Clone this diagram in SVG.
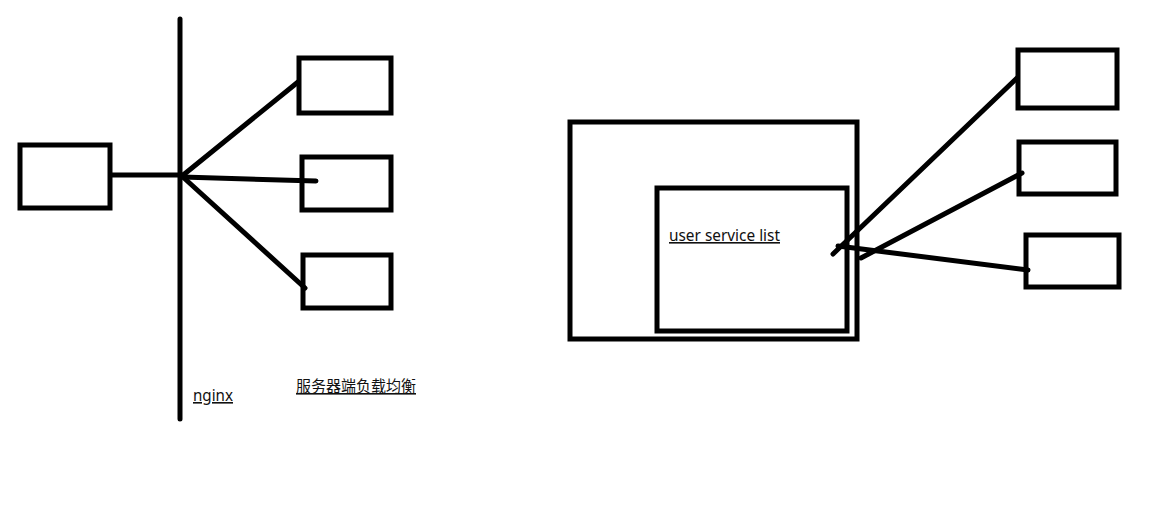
<svg xmlns="http://www.w3.org/2000/svg" width="1158" height="514" viewBox="0 0 1158 514">
<style>
.box{fill:none;stroke:#000;stroke-width:5}
.ln{fill:none;stroke:#000;stroke-width:5;stroke-linecap:round}
.lbl{font-family:"Noto Sans","Noto Sans CJK SC",sans-serif;font-size:16px;fill:#111;text-decoration:underline}
</style>
<rect width="1158" height="514" fill="#fff"/>
<g id="connectors">
<line class="ln" x1="180" y1="19" x2="180" y2="419"/>
<line class="ln" x1="112" y1="175" x2="182" y2="175"/>
<line class="ln" x1="182" y1="176" x2="298" y2="82"/>
<line class="ln" x1="182" y1="177" x2="316" y2="181"/>
<line class="ln" x1="184" y1="178" x2="305" y2="288"/>
<line class="ln" x1="833" y1="254" x2="1017" y2="78"/>
<line class="ln" x1="861" y1="258" x2="1022" y2="173"/>
<line class="ln" x1="838" y1="246" x2="1028" y2="270"/>
</g>
<g id="client"><rect class="box" x="20" y="145" width="90" height="63"/></g>
<g id="server1"><rect class="box" x="299" y="58" width="92" height="55"/></g>
<g id="server2"><rect class="box" x="302" y="157" width="89" height="53"/></g>
<g id="server3"><rect class="box" x="303" y="255" width="88" height="53"/></g>
<g id="nginx-label"><text class="lbl" x="193" y="401" textLength="40" lengthAdjust="spacingAndGlyphs">nginx</text></g>
<g id="server-lb-label"><text class="lbl" x="296" y="392" textLength="120" lengthAdjust="spacingAndGlyphs">服务器端负载均衡</text></g>
<g id="client-app"><rect class="box" x="570" y="122" width="287" height="217"/></g>
<g id="service-list"><rect class="box" x="657" y="188" width="190" height="143"/>
<text class="lbl" x="669" y="241" textLength="111" lengthAdjust="spacingAndGlyphs">user service list</text></g>
<g id="rserver1"><rect class="box" x="1018" y="50" width="99" height="58"/></g>
<g id="rserver2"><rect class="box" x="1019" y="142" width="97" height="52"/></g>
<g id="rserver3"><rect class="box" x="1026" y="235" width="93" height="52"/></g>
</svg>
